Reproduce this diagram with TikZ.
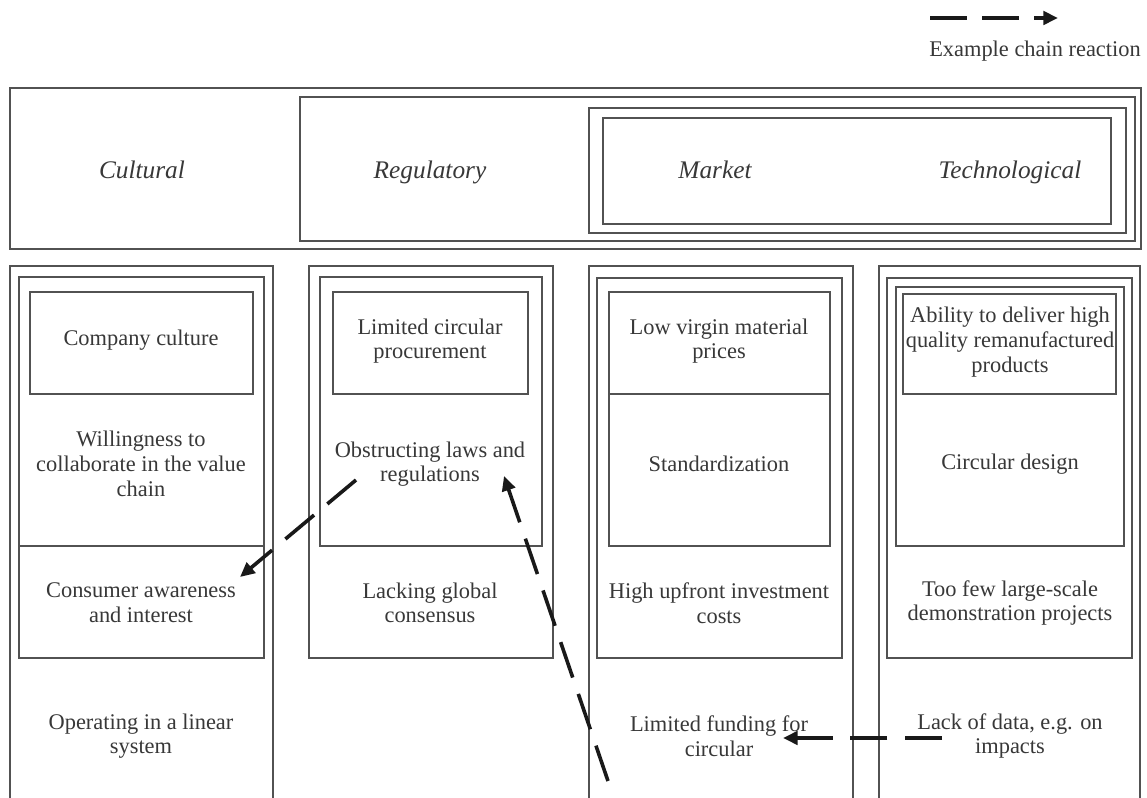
\documentclass[tikz,border=0pt]{standalone}
\usepackage{fontspec}
\setmainfont{Liberation Serif}
\usetikzlibrary{arrows.meta}
\tikzset{
  boxline/.style={draw=black!68, line width=1pt},
  txt/.style={text=black!78, align=center, font=\fontsize{16.8}{18.5}\selectfont, inner sep=0pt},
  cat/.style={text=black!78, font=\fontsize{19}{21}\selectfont\itshape, inner sep=0pt, anchor=base},
  chain/.style={draw=black!90, line width=2.7pt, dash pattern=on 28pt off 13pt, -{Triangle[length=11pt,width=10pt]}}
}
\begin{document}
\begin{tikzpicture}[x=0.75pt,y=-0.75pt]
\useasboundingbox (0,0) rectangle (1147,798);
\fill[white] (0,0) rectangle (1147,798);
% legend
\coordinate (lgA) at (930,18);
\coordinate (lgB) at (1058,18);
\draw[draw=black!90, line width=2.7pt, dash pattern=on 28pt off 11pt, -{Triangle[length=11pt,width=10pt]}] (lgA) -- (lgB);
\node[txt] (legend) at (1035,51) {Example chain reaction};
% top band
\draw[boxline] (10,88) rectangle (1141,249);
\draw[boxline] (300,97) rectangle (1135,241);
\draw[boxline] (589,108) rectangle (1126,233);
\draw[boxline] (603,118) rectangle (1111,224);
\node[cat] (cultural) at (142,179) {Cultural};
\node[cat] (regulatory) at (430,179) {Regulatory};
\node[cat] (market) at (715,179) {Market};
\node[cat] (technological) at (1010,179) {Technological};
% column 1
\draw[boxline] (10,810) -- (10,266) -- (273,266) -- (273,810);
\draw[boxline] (19,277) rectangle (264,658);
\draw[boxline] (30,292) rectangle (253,394);
\draw[boxline] (19,546) -- (264,546);
\node[txt] (c1) at (141,340) {Company culture};
\node[txt] (c2) at (141,464) {Willingness to\\collaborate in the value\\chain};
\node[txt] (c3) at (141,603) {Consumer awareness\\and interest};
\node[txt] (c4) at (141,736) {Operating in a linear\\system};
% column 2
\draw[boxline] (309,266) rectangle (553,658);
\draw[boxline] (320,277) rectangle (542,546);
\draw[boxline] (333,292) rectangle (528,394);
\node[txt] (r1) at (430,341) {Limited circular\\procurement};
\node[txt] (r2) at (430,464) {Obstructing laws and\\regulations};
\node[txt] (r3) at (430,603) {Lacking global\\consensus};
% column 3
\draw[boxline] (589,810) -- (589,266) -- (853,266) -- (853,810);
\draw[boxline] (597,278) rectangle (842,658);
\draw[boxline] (609,292) rectangle (830,546);
\draw[boxline] (609,394) -- (830,394);
\node[txt] (m1) at (719,341) {Low virgin material\\prices};
\node[txt] (m2) at (719,464) {Standardization};
\node[txt] (m3) at (719,603) {High upfront investment\\costs};
\node[txt] (m4) at (719,736) {Limited funding for\\circular};
% column 4
\draw[boxline] (879,810) -- (879,266) -- (1140,266) -- (1140,810);
\draw[boxline] (887,278) rectangle (1132,658);
\draw[boxline] (896,287) rectangle (1124,546);
\draw[boxline] (903,294) rectangle (1116,394);
\node[txt] (t1) at (1010,342) {Ability to deliver high\\quality remanufactured\\products};
\node[txt] (t2) at (1010,464) {Circular design};
\node[txt] (t3) at (1010,603) {Too few large-scale\\demonstration projects};
\node[txt] (t4) at (1010,736) {Lack of data, e.g. on\\impacts};
% chain reaction arrows
\coordinate (a1s) at (356,480);
\coordinate (a1e) at (240,577);
\coordinate (a2s) at (608,781);
\coordinate (a2e) at (504,476);
\coordinate (a3s) at (942,738);
\coordinate (a3e) at (783,738);
\draw[chain] (a1s) -- (a1e);
\draw[chain] (a2s) -- (a2e);
\draw[chain] (a3s) -- (a3e);
\end{tikzpicture}
\end{document}
